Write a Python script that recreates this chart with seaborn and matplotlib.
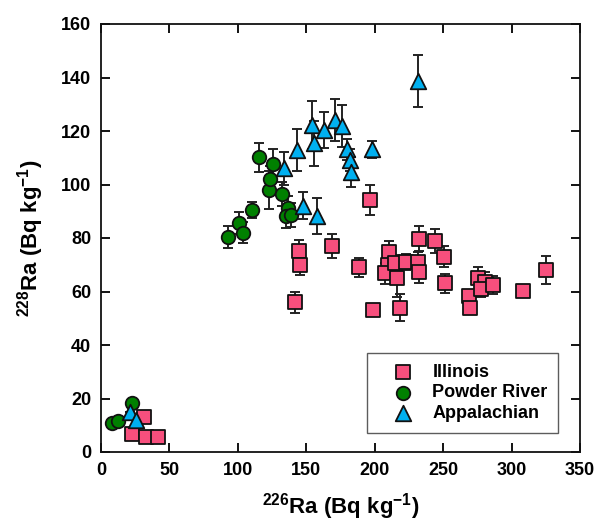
import matplotlib
matplotlib.use('Agg')
import matplotlib.pyplot as plt
import seaborn as sns
import pandas as pd

# 226Ra, 228Ra and 228Ra uncertainty (Bq/kg)
illinois_x = [22.4, 32.6, 41.8, 31.6, 141.9, 144.6, 145.6, 168.7, 196.5, 188.7,
              198.4, 210.6, 209.9, 207.5, 216.4, 214.8, 223.2, 231.7, 232.5, 243.7,
              250.5, 232.5, 251.7, 218.8, 269.0, 269.5, 275.6, 280.4, 278.0, 286.5,
              308.3, 325.0]
illinois_y = [6.9, 5.7, 5.7, 13.1, 55.9, 75.1, 70.0, 77.1, 94.2, 69.0,
              53.1, 74.9, 69.9, 66.8, 65.0, 70.5, 70.9, 71.1, 79.8, 78.9,
              73.0, 67.2, 63.1, 54.0, 58.2, 53.7, 65.0, 63.7, 61.1, 62.4,
              60.2, 68.0]
illinois_err = [0, 0, 0, 0, 4, 4, 4, 4.5, 5.5, 3.5,
                1, 4, 4, 4, 7, 3, 3, 3.5, 4.5, 4.5,
                4, 4, 3.5, 5, 2, 1, 4, 3.5, 3, 3.5,
                1.5, 5.2]

powder_x = [7.8, 12.7, 22.9, 92.8, 100.8, 103.4, 110.5, 115.6, 122.7, 123.4,
            125.6, 132.4, 136.8, 135.1, 138.5]
powder_y = [11.0, 11.5, 18.4, 80.3, 85.6, 82.0, 90.3, 110.1, 97.9, 102.1,
            107.6, 96.4, 91.3, 88.2, 88.6]
powder_err = [0, 0, 0, 4, 4, 4, 3, 5.5, 7, 5,
              5.5, 4.5, 4.5, 4.5, 4.5]

appal_x = [21.2, 25.6, 133.9, 143.2, 147.8, 154.2, 155.8, 157.5, 162.9, 170.7,
           176.0, 180.0, 181.9, 183.0, 197.7, 231.6]
appal_y = [15.1, 12.0, 106.1, 112.9, 92.1, 122.2, 115.4, 88.2, 120.4, 124.1,
           121.9, 113.1, 109.1, 104.8, 113.1, 138.7]
appal_err = [0, 0, 6.2, 7.9, 5, 9, 8.5, 6.7, 6.8, 7.7,
             7.8, 4, 4, 5.6, 3.2, 9.7]

basins = ['Illinois', 'Powder River', 'Appalachian']
colors = {'Illinois': '#f74f7d', 'Powder River': '#008000', 'Appalachian': '#00b0f0'}
markers = {'Illinois': 's', 'Powder River': 'o', 'Appalachian': '^'}
sizes = {'Illinois': 105, 'Powder River': 95, 'Appalachian': 125}

df = pd.concat([
    pd.DataFrame({'ra226': illinois_x, 'ra228': illinois_y, 'err': illinois_err, 'basin': 'Illinois'}),
    pd.DataFrame({'ra226': powder_x, 'ra228': powder_y, 'err': powder_err, 'basin': 'Powder River'}),
    pd.DataFrame({'ra226': appal_x, 'ra228': appal_y, 'err': appal_err, 'basin': 'Appalachian'}),
])

sns.set_style('ticks')
plt.rcParams['font.family'] = ['Liberation Sans', 'DejaVu Sans']
plt.rcParams['font.weight'] = 'bold'
plt.rcParams['mathtext.fontset'] = 'custom'
plt.rcParams['mathtext.rm'] = 'Liberation Sans:bold'
plt.rcParams['mathtext.default'] = 'rm'
for k in ['text.color', 'axes.labelcolor', 'xtick.color', 'ytick.color']:
    plt.rcParams[k] = 'black'

fig = plt.figure(figsize=(5.98, 5.26), dpi=100)
ax = fig.add_axes([101 / 598, 1 - 452 / 526, 479 / 598, 428 / 526])

for b in basins:
    d = df[df['basin'] == b]
    ax.errorbar(d['ra226'], d['ra228'], yerr=d['err'], fmt='none', ecolor='#222222',
                elinewidth=1.4, capsize=3.8, capthick=1.4, zorder=1)

for b in basins:
    d = df[df['basin'] == b]
    sns.scatterplot(data=d, x='ra226', y='ra228', marker=markers[b], color=colors[b],
                    s=sizes[b], edgecolor='#111111', linewidth=1.3, label=b, ax=ax, zorder=2)

ax.set_xlim(0, 350)
ax.set_ylim(0, 160)
ax.set_xticks(range(0, 351, 50))
ax.set_yticks(range(0, 161, 20))
ax.tick_params(direction='in', length=6.5, width=1.3, top=True, right=True,
               labelsize=13, pad=7, colors='black')
for lab in ax.get_xticklabels() + ax.get_yticklabels():
    lab.set_fontweight('bold')
for sp in ax.spines.values():
    sp.set_linewidth(1.3)
    sp.set_color('#111111')

ax.set_xlabel(r'$^{226}$Ra (Bq kg$^{-1}$)', fontsize=16, fontweight='bold', labelpad=9)
ax.set_ylabel(r'$^{228}$Ra (Bq kg$^{-1}$)', fontsize=16, fontweight='bold', labelpad=11)

leg = ax.legend(loc='lower right', bbox_to_anchor=(0.955, 0.045), borderaxespad=0,
                frameon=True, fancybox=False, edgecolor='#333333', fontsize=13,
                handletextpad=0.2, labelspacing=0.2, borderpad=0.6, handlelength=2.8)
leg.get_frame().set_linewidth(1.0)
for t in leg.get_texts():
    t.set_fontweight('bold')
    t.set_color('black')

fig.savefig('out.png', dpi=100)
